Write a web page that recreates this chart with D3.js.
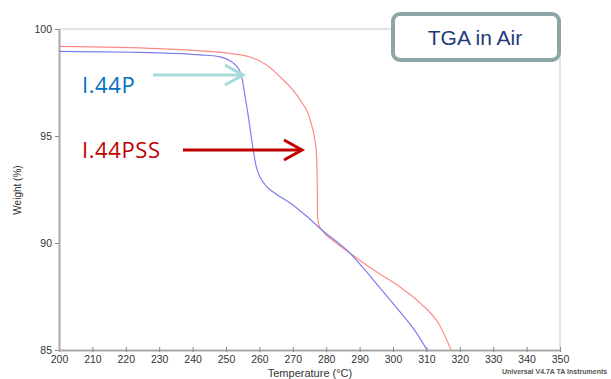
<!DOCTYPE html>
<html><head><meta charset="utf-8">
<script src="https://cdn.jsdelivr.net/npm/d3@7"></script>
<style>body{margin:0;background:#fff}svg{display:block}</style>
</head><body>
<svg id="c" width="611" height="379"></svg>
<script>
// Data (temperature °C, weight %)
const xTicks = [200,210,220,230,240,250,260,270,280,290,300,310,320,330,340,350];
const yTicks = [85,90,95,100];
const p44Temp = [200,229.9,242.2,247.9,250.6,252.7,254.5,255.7,256.7,257.7,258.4,259.0,259.9,261.1,262.6,265.0,269.2,273.7,278.7,287.1,291.6,296.1,302.1,306.6,310.2];
const p44Weight = [98.95,98.88,98.79,98.71,98.57,98.34,97.90,96.87,95.90,94.81,94.11,93.60,93.18,92.85,92.57,92.29,91.87,91.31,90.61,89.53,88.74,87.90,86.78,85.89,85.0];
const pssTemp = [200,229.9,250.0,257.2,261.7,266.2,272.2,275.2,277.0,277.3,277.4,277.8,278.7,282.6,287.1,291.6,296.1,302.1,308.1,314.1,317.4];
const pssWeight = [99.19,99.08,98.88,98.69,98.36,97.76,96.68,95.75,94.35,92.94,91.31,90.84,90.61,90.05,89.53,89.02,88.55,87.94,87.20,86.12,85.0];
const seriesNames = ["I.44P","I.44PSS"];
const titleText = "TGA in Air";

const svg = d3.select("#c");
const x = d3.scaleLinear().domain([200,350]).range([59,560]);
const y = d3.scaleLinear().domain([85,100]).range([350,29]);

// frame (top/right)
svg.append("line").attr("x1",59).attr("x2",560).attr("y1",29).attr("y2",29).attr("stroke","#c8c8c8").attr("stroke-width",1);
svg.append("line").attr("x1",560).attr("x2",560).attr("y1",29).attr("y2",350).attr("stroke","#c8c8c8").attr("stroke-width",1);

// axes
const xAxis = svg.append("g").attr("transform","translate(0,350)")
  .call(d3.axisBottom(x).tickValues(xTicks).tickSize(3).tickSizeOuter(0).tickPadding(3));
const yAxis = svg.append("g").attr("transform","translate(59,0)")
  .call(d3.axisLeft(y).tickValues(yTicks).tickSize(4).tickSizeOuter(0).tickPadding(3));
[xAxis,yAxis].forEach(g=>{
  g.select(".domain").attr("stroke","#a8a8a8").attr("stroke-width",2);
  g.selectAll(".tick line").attr("stroke","#888");
  g.selectAll(".tick text").attr("fill","#333").attr("font-family","Liberation Sans, Arial, sans-serif").attr("font-size","10.5px");
});
xAxis.selectAll(".tick line").attr("y1",-3).attr("y2",2);

svg.append("text").attr("x",310).attr("y",377).attr("text-anchor","middle")
  .attr("font-family","Liberation Sans, Arial, sans-serif").attr("font-size","11px").attr("fill","#333")
  .text("Temperature (°C)");
svg.append("text").attr("transform","translate(21,190) rotate(-90)").attr("text-anchor","middle")
  .attr("font-family","Liberation Sans, Arial, sans-serif").attr("font-size","10px").attr("fill","#333")
  .text("Weight (%)");
svg.append("text").attr("x",502).attr("y",374)
  .attr("font-family","Liberation Sans, Arial, sans-serif").attr("font-size","7px").attr("font-weight","bold").attr("fill","#555")
  .text("Universal V4.7A TA Instruments");

// curves
const line = d3.line().x(d=>x(d[0])).y(d=>y(d[1])).curve(d3.curveMonotoneX);
svg.append("path").datum(d3.zip(pssTemp,pssWeight)).attr("d",line)
  .attr("fill","none").attr("stroke","#ff8a8a").attr("stroke-width",1.2);
svg.append("path").datum(d3.zip(p44Temp,p44Weight)).attr("d",line)
  .attr("fill","none").attr("stroke","#7d7df0").attr("stroke-width",1.2);

// annotations
const lblFont = "'Open Sans', Lato, sans-serif";
svg.append("text").attr("x",82).attr("y",93).attr("font-family",lblFont).attr("font-size","22px").attr("letter-spacing","0.6px").attr("fill","#0070c0").text(seriesNames[0]);
svg.append("text").attr("x",82).attr("y",158).attr("font-family",lblFont).attr("font-size","22px").attr("letter-spacing","0.6px").attr("fill","#c00000").text(seriesNames[1]);

function arrow(x1,x2,yy,col){
  const g = svg.append("g").attr("stroke",col).attr("stroke-width",3).attr("fill","none").attr("stroke-linecap","butt");
  g.append("line").attr("x1",x1).attr("x2",x2-1).attr("y1",yy).attr("y2",yy);
  g.append("path").attr("d",`M${x2-18},${yy-10}L${x2},${yy}L${x2-18},${yy+10}`).attr("stroke-linejoin","miter");
}
arrow(153,243,75,"#a6d9da");
arrow(183,302,150,"#c00000");

// title box
svg.append("rect").attr("x",393).attr("y",14).attr("width",166).attr("height",46).attr("rx",7)
  .attr("fill","#fff").attr("stroke","#8ca6a7").attr("stroke-width",4);
svg.append("text").attr("x",475).attr("y",45).attr("text-anchor","middle")
  .attr("font-family","Liberation Sans, Arial, sans-serif").attr("font-size","21px").attr("fill","#1f3a78")
  .text(titleText);
</script>
</body></html>
